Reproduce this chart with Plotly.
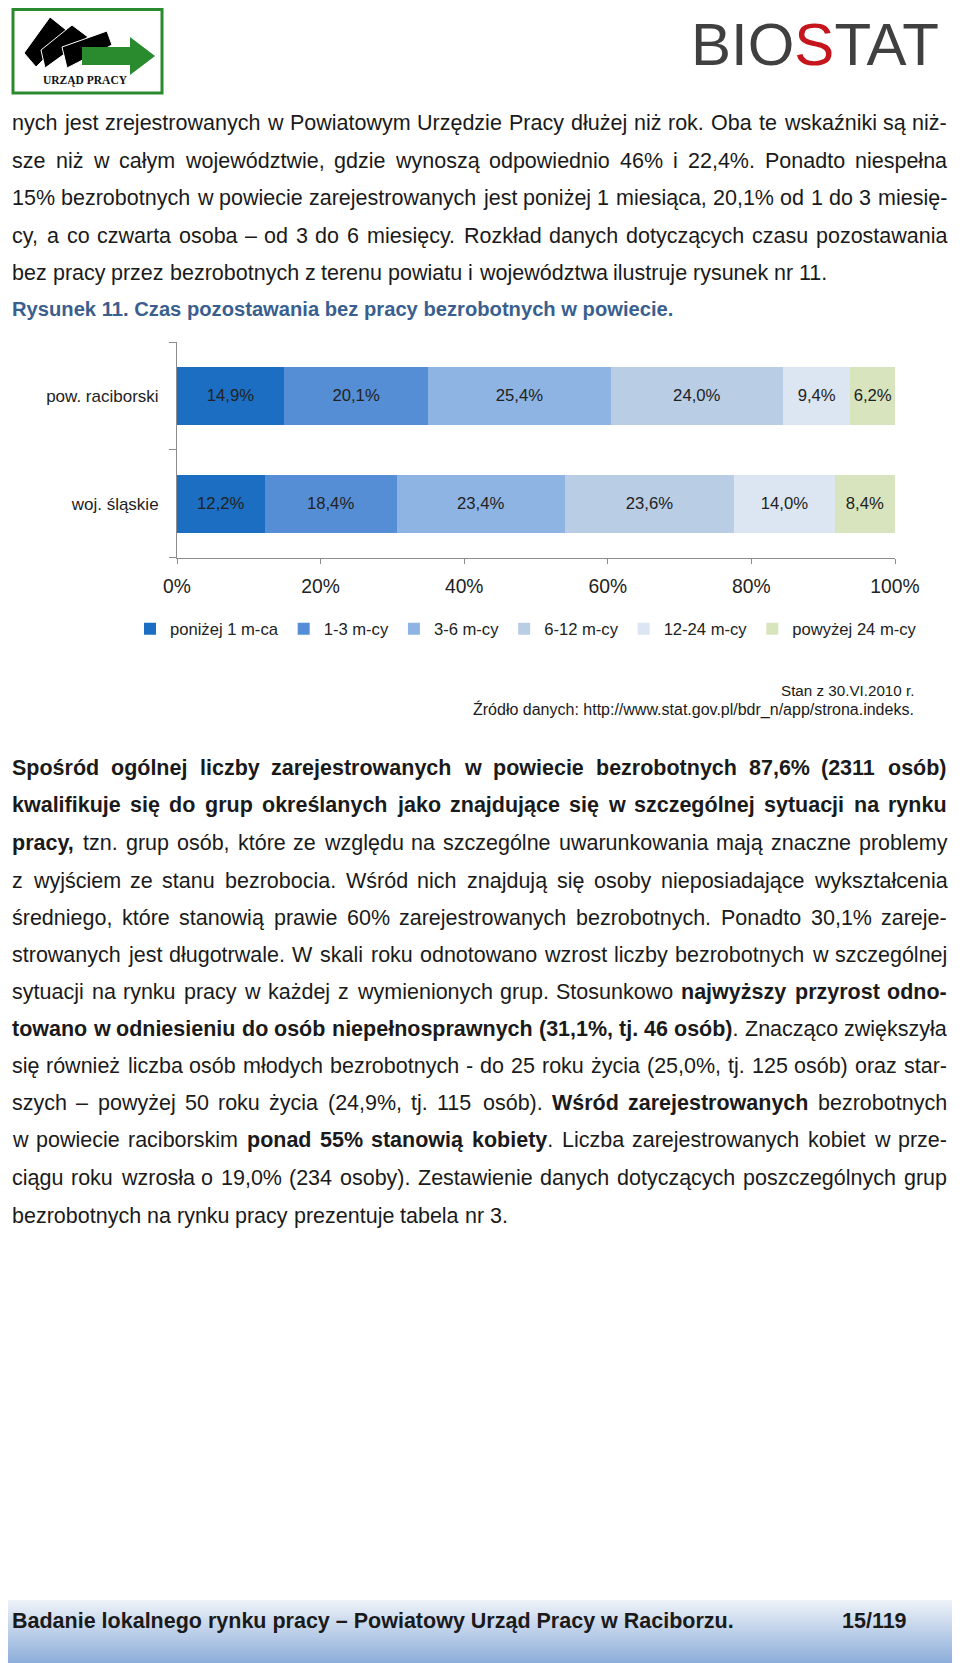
import plotly.graph_objects as go

W, H = 960, 1663
OFF = 8  # the page body margin around the figure; page pixel = figure pixel + OFF

# ---------------- chart data ----------------
categories = ["pow. raciborski", "woj. śląskie"]
series_names = ["poniżej 1 m-ca", "1-3 m-cy", "3-6 m-cy", "6-12 m-cy", "12-24 m-cy", "powyżej 24 m-cy"]
pow_raciborski = [14.9, 20.1, 25.4, 24.0, 9.4, 6.2]
woj_slaskie = [12.2, 18.4, 23.4, 23.6, 14.0, 8.4]
x_tick_values = [0, 20, 40, 60, 80, 100]
x_tick_labels = ["0%", "20%", "40%", "60%", "80%", "100%"]
series_colors = ["#1B6EC2", "#558ED5", "#8EB4E3", "#B9CDE5", "#DCE6F2", "#D7E4BD"]

# ---------------- page text ----------------
para1 = [
    [("nych jest zrejestrowanych w Powiatowym Urzędzie Pracy dłużej niż rok. Oba te wskaźniki są niż-", False)],
    [("sze niż w całym województwie, gdzie wynoszą odpowiednio 46% i 22,4%. Ponadto niespełna", False)],
    [("15% bezrobotnych w powiecie zarejestrowanych jest poniżej 1 miesiąca, 20,1% od 1 do 3 miesię-", False)],
    [("cy, a co czwarta osoba – od 3 do 6 miesięcy. Rozkład danych dotyczących czasu pozostawania", False)],
    [("bez pracy przez bezrobotnych z terenu powiatu i województwa ilustruje rysunek nr 11.", False)],
]
para1_y = [123, 161, 198, 235.5, 272.6]
caption = "Rysunek 11. Czas pozostawania bez pracy bezrobotnych w powiecie."
para2 = [
    [("Spośród ogólnej liczby zarejestrowanych w powiecie bezrobotnych 87,6% (2311 osób)", True)],
    [("kwalifikuje się do grup określanych jako znajdujące się w szczególnej sytuacji na rynku", True)],
    [("pracy,", True), (" tzn. grup osób, które ze względu na szczególne uwarunkowania mają znaczne problemy", False)],
    [("z wyjściem ze stanu bezrobocia. Wśród nich znajdują się osoby nieposiadające wykształcenia", False)],
    [("średniego, które stanowią prawie 60% zarejestrowanych bezrobotnych. Ponadto 30,1% zareje-", False)],
    [("strowanych jest długotrwale. W skali roku odnotowano wzrost liczby bezrobotnych w szczególnej", False)],
    [("sytuacji na rynku pracy w każdej z wymienionych grup. Stosunkowo ", False), ("najwyższy przyrost odno-", True)],
    [("towano w odniesieniu do osób niepełnosprawnych (31,1%, tj. 46 osób)", True), (". Znacząco zwiększyła", False)],
    [("się również liczba osób młodych bezrobotnych - do 25 roku życia (25,0%, tj. 125 osób) oraz star-", False)],
    [("szych – powyżej 50 roku życia (24,9%, tj. 115 osób). ", False), ("Wśród zarejestrowanych", True), (" bezrobotnych", False)],
    [("w powiecie raciborskim ", False), ("ponad 55% stanowią kobiety", True), (". Liczba zarejestrowanych kobiet w prze-", False)],
    [("ciągu roku wzrosła o 19,0% (234 osoby). Zestawienie danych dotyczących poszczególnych grup", False)],
    [("bezrobotnych na rynku pracy prezentuje tabela nr 3.", False)],
]
para2_y = [768, 805, 843, 880.5, 917.6, 954.7, 991.8, 1029, 1066, 1103, 1140, 1177.5, 1215.6]
source_lines = ["Stan z 30.VI.2010 r.", "Źródło danych: http://www.stat.gov.pl/bdr_n/app/strona.indeks."]
footer_left = "Badanie lokalnego rynku pracy – Powiatowy Urząd Pracy w Raciborzu."
footer_right = "15/119"

SANS = "Liberation Sans, Arial, sans-serif"
TXT = "#1a1a1a"

# Arial / Liberation Sans advance widths (1/1000 em)
REG = {' ': 278, '%': 889, '(': 333, ')': 333, ',': 278, '-': 333, '.': 278, '/': 278, ':': 278, '_': 556, '–': 556,
       'A': 667, 'B': 667, 'C': 722, 'D': 722, 'E': 667, 'F': 611, 'G': 778, 'H': 722, 'I': 278, 'J': 500, 'K': 667,
       'L': 556, 'M': 833, 'N': 722, 'O': 778, 'P': 667, 'Q': 778, 'R': 722, 'S': 667, 'T': 611, 'U': 722, 'V': 667,
       'W': 944, 'X': 667, 'Y': 667, 'Z': 611, 'Ś': 667, 'Ź': 611, 'Ż': 611,
       'a': 556, 'b': 556, 'c': 500, 'd': 556, 'e': 556, 'f': 278, 'g': 556, 'h': 556, 'i': 222, 'j': 222, 'k': 500,
       'l': 222, 'm': 833, 'n': 556, 'o': 556, 'p': 556, 'q': 556, 'r': 333, 's': 500, 't': 278, 'u': 556, 'v': 500,
       'w': 722, 'x': 500, 'y': 500, 'z': 500, 'ą': 556, 'ć': 500, 'ę': 556, 'ł': 222, 'ń': 556, 'ó': 556, 'ś': 500,
       'ź': 500, 'ż': 500}
BOLD = {' ': 278, '%': 889, '(': 333, ')': 333, ',': 278, '-': 333, '.': 278, '/': 278, ':': 333, '_': 556, '–': 556,
        'A': 722, 'B': 722, 'C': 722, 'D': 722, 'E': 667, 'F': 611, 'G': 778, 'H': 722, 'I': 278, 'J': 556, 'K': 722,
        'L': 611, 'M': 833, 'N': 722, 'O': 778, 'P': 667, 'Q': 778, 'R': 722, 'S': 667, 'T': 611, 'U': 722, 'V': 667,
        'W': 944, 'X': 667, 'Y': 667, 'Z': 611, 'Ś': 667, 'Ź': 611, 'Ż': 611,
        'a': 556, 'b': 611, 'c': 556, 'd': 611, 'e': 556, 'f': 333, 'g': 611, 'h': 611, 'i': 278, 'j': 278, 'k': 556,
        'l': 278, 'm': 889, 'n': 611, 'o': 611, 'p': 611, 'q': 611, 'r': 389, 's': 556, 't': 333, 'u': 611, 'v': 556,
        'w': 778, 'x': 556, 'y': 556, 'z': 500, 'ą': 556, 'ć': 556, 'ę': 556, 'ł': 278, 'ń': 611, 'ó': 611, 'ś': 556,
        'ź': 500, 'ż': 500}


def tw(s, bold, size):
    t = BOLD if bold else REG
    return sum(t.get(c, 556) for c in s) * size / 1000.0


annotations = []


def ann(x, y, text, size, family=SANS, color=TXT, xanchor="left", yanchor="middle"):
    annotations.append(dict(x=x, y=y, xref="x2", yref="y2", text=text, showarrow=False,
                            xanchor=xanchor, yanchor=yanchor, borderpad=0, borderwidth=0,
                            font=dict(size=size, family=family, color=color)))


BODY = 21.5
LM, RM = 12, 947


def layout_line(segs, y, justify):
    words = []
    cur = []
    for text, bold in segs:
        parts = text.split(" ")
        for i, p in enumerate(parts):
            if i > 0:
                if cur:
                    words.append(cur)
                cur = []
            if p:
                cur.append((p, bold))
    if cur:
        words.append(cur)
    widths = [sum(tw(t, b, BODY) for t, b in w) for w in words]
    if justify and len(words) > 1:
        gap = (RM - LM - sum(widths)) / (len(words) - 1)
    else:
        gap = tw(" ", False, BODY)
    x = LM
    for w, wd in zip(words, widths):
        txt = "".join(("<b>%s</b>" % t) if b else t for t, b in w)
        ann(x, y, txt, BODY)
        x += wd + gap


for i, (segs, y) in enumerate(zip(para1, para1_y)):
    layout_line(segs, y, i < len(para1) - 1)
for i, (segs, y) in enumerate(zip(para2, para2_y)):
    layout_line(segs, y, i < len(para2) - 1)

cap_size = 663 / (tw(caption, True, 1))
ann(LM, 308.7, "<b>%s</b>" % caption, cap_size, color="#3A5F8F")

ann(914, 690.6, source_lines[0], 15.2, xanchor="right")
ann(914, 709.7, source_lines[1], 16, xanchor="right")

# ---------------- shapes: logos + footer ----------------
shapes = []


def path(pts):
    return "M " + " L ".join("%g,%g" % p for p in pts) + " Z"


# footer gradient band
top_c = (0xEE, 0xF2, 0xF8)
bot_c = (0x8D, 0xAE, 0xDA)
y0, y1 = 1600, 1663
n = y1 - y0
for k in range(n):
    f = k / (n - 1)
    c = tuple(int(round(top_c[j] + (bot_c[j] - top_c[j]) * f)) for j in range(3))
    shapes.append(dict(type="rect", xref="x2", yref="y2", x0=3, x1=957, y0=y0 + k, y1=y0 + k + 1.2,
                       line=dict(width=0), fillcolor="rgb(%d,%d,%d)" % c, layer="below"))
ann(LM, 1621, "<b>%s</b>" % footer_left, BODY)
ann(907, 1621, "<b>%s</b>" % footer_right, BODY, xanchor="right")

# left logo
shapes.append(dict(type="rect", xref="x2", yref="y2", x0=13, y0=9.6, x1=162, y1=93,
                   line=dict(color="#2A8A2E", width=3), fillcolor="white"))
cards = [
    [(50, 17), (24, 53), (36, 67), (70, 33)],
    [(72, 25), (41, 50), (45, 68), (88, 37)],
    [(107, 31), (62, 47), (67, 68), (112, 45)],
]
for c in cards:
    shapes.append(dict(type="path", xref="x2", yref="y2", path=path(c), fillcolor="black",
                       line=dict(color="white", width=1)))
arrow = [(82, 47), (130, 47), (130, 37), (155, 56), (130, 75), (130, 65), (82, 65)]
shapes.append(dict(type="path", xref="x2", yref="y2", path=path(arrow), fillcolor="#2A8A2E",
                   line=dict(width=0)))
ann(85, 80, "<b>URZĄD PRACY</b>", 11.5, family="Liberation Serif, serif", color="#111", xanchor="center")

# right logo
ann(939, 44.5, 'BIO<span style="color:#C4161C">S</span>TAT', 60, color="#404040", xanchor="right")

# ---------------- figure ----------------
fig = go.Figure()


def fmt(v):
    return ("%.1f%%" % v).replace(".", ",")


for i, name in enumerate(series_names):
    vals = [pow_raciborski[i], woj_slaskie[i]]
    fig.add_trace(go.Bar(
        orientation="h", y=categories, x=vals, name=name,
        marker=dict(color=series_colors[i], line=dict(width=0)),
        text=[fmt(v) for v in vals], textposition="inside", insidetextanchor="middle",
        textangle=0, textfont=dict(family=SANS, size=16.7, color="#222222"),
        hoverinfo="skip",
    ))

fig.add_trace(go.Scatter(x=[], y=[], xaxis="x2", yaxis="y2", showlegend=False, hoverinfo="skip"))

# plot-area edges in page pixels
px_left, px_right = 177, 895
py_top, py_bot = 342, 557.7


def fx(p):
    return (p - OFF) / W


def fy(p):
    return 1 - (p - OFF) / H


fig.update_layout(
    width=W, height=H, autosize=False,
    margin=dict(l=0, r=0, t=0, b=0, pad=0, autoexpand=False),
    paper_bgcolor="white", plot_bgcolor="rgba(0,0,0,0)",
    barmode="stack", bargap=0.46,
    uniformtext=dict(mode="show", minsize=16.7),
    xaxis=dict(domain=[fx(px_left), fx(px_right)], range=[0, 100], tickvals=x_tick_values,
               ticktext=x_tick_labels,
               showgrid=False, zeroline=False, showline=True, linecolor="#8c8c8c", linewidth=1,
               ticks="outside", ticklen=5, tickcolor="#8c8c8c",
               tickfont=dict(family=SANS, size=19.3, color="#222222"), ticklabelstandoff=6,
               anchor="y", fixedrange=True, automargin=False),
    yaxis=dict(domain=[fy(py_bot), fy(py_top)], type="category",
               categoryorder="array", categoryarray=list(reversed(categories)),
               showgrid=False, zeroline=False, showline=True, linecolor="#8c8c8c", linewidth=1,
               ticks="outside", ticklen=7, tickcolor="#8c8c8c", tickson="boundaries",
               tickfont=dict(family=SANS, size=17, color="#222222"), ticklabelstandoff=14,
               anchor="x", fixedrange=True, automargin=False),
    xaxis2=dict(domain=[0, 1], range=[OFF, W + OFF], visible=False, anchor="y2", fixedrange=True,
                automargin=False),
    yaxis2=dict(domain=[0, 1], range=[H + OFF, OFF], visible=False, anchor="x2", fixedrange=True,
                automargin=False),
    legend=dict(orientation="h", x=fx(130), xanchor="left", y=fy(629), yanchor="middle",
                traceorder="normal", font=dict(family=SANS, size=16.6, color="#222222"),
                bgcolor="rgba(0,0,0,0)"),
    showlegend=True,
    shapes=shapes,
    annotations=annotations,
)

fig.write_html("out.html")
